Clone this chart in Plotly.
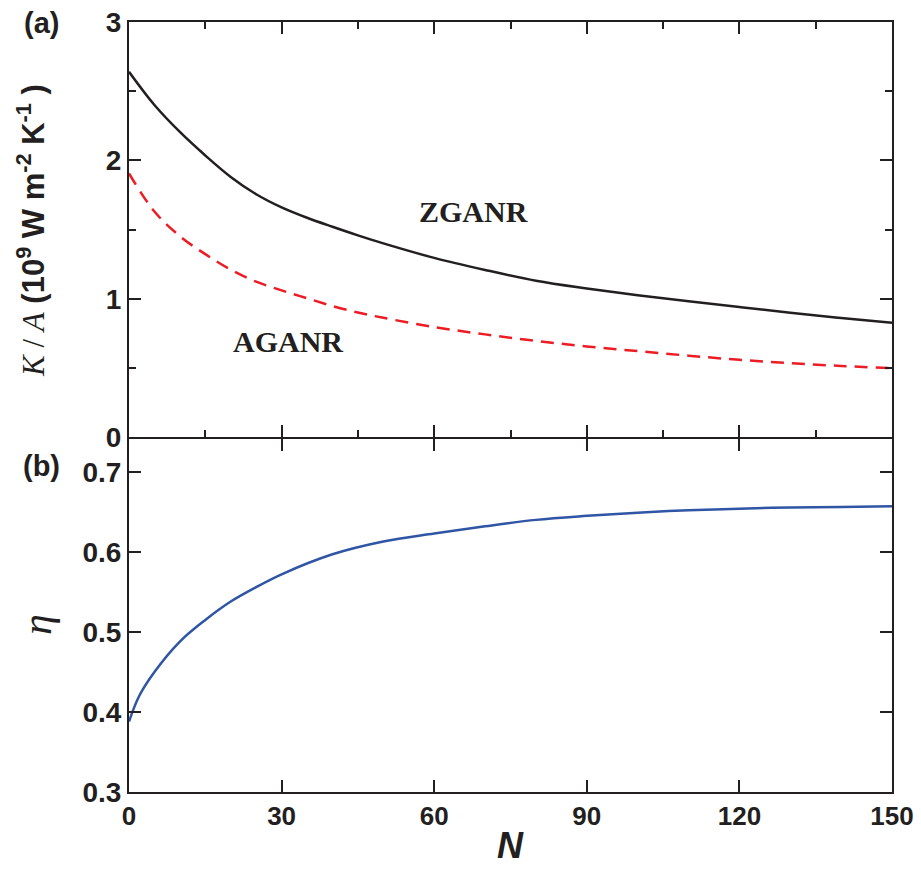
import plotly.graph_objects as go

# ---- data ----
N_k = [0, 5, 10, 15, 20, 25, 30, 35, 40, 45, 50, 60, 70, 80, 90, 100, 110, 120, 130, 140, 150]
zganr = [2.64, 2.40, 2.205, 2.035, 1.88, 1.755, 1.66, 1.585, 1.52, 1.458, 1.40, 1.295, 1.208, 1.13,
         1.074, 1.025, 0.982, 0.94, 0.898, 0.86, 0.826]
aganr = [1.905, 1.63, 1.452, 1.322, 1.21, 1.123, 1.06, 1.003, 0.947, 0.90, 0.862, 0.795, 0.742,
         0.695, 0.655, 0.621, 0.588, 0.558, 0.534, 0.514, 0.497]
N_eta = [0, 2, 5, 10, 15, 20, 25, 30, 40, 50, 60, 70, 80, 90, 100, 110, 120, 130, 140, 150]
eta = [0.388, 0.42, 0.45, 0.488, 0.515, 0.538, 0.556, 0.572, 0.597, 0.613, 0.623, 0.632, 0.64,
       0.645, 0.649, 0.652, 0.654, 0.6555, 0.656, 0.657]

x_ticks = [0, 30, 60, 90, 120, 150]
k_ticks = [0, 1, 2, 3]
eta_ticks = [0.3, 0.4, 0.5, 0.6, 0.7]

AX = "#231f20"
BLACK = "#231f20"
RED = "#ed1c24"
BLUE = "#2f55a4"

fig = go.Figure()
fig.add_trace(go.Scatter(x=N_k, y=zganr, mode="lines", line=dict(color=BLACK, width=2.5, shape="spline"),
                         xaxis="x2", yaxis="y2", showlegend=False))
fig.add_trace(go.Scatter(x=N_k, y=aganr, mode="lines",
                         line=dict(color=RED, width=2.5, dash="13px,8px", shape="spline"),
                         xaxis="x2", yaxis="y2", showlegend=False))
fig.add_trace(go.Scatter(x=N_eta, y=eta, mode="lines", line=dict(color=BLUE, width=2.5, shape="spline"),
                         xaxis="x", yaxis="y", showlegend=False))

ytickfont = dict(family="Liberation Sans, Arial", size=28, color=AX, weight="bold")
xtickfont = dict(family="Liberation Sans, Arial", size=26, color=AX, weight="bold")
common = dict(showline=True, linecolor=AX, linewidth=2, mirror="ticks", ticks="inside",
              tickcolor=AX, tickwidth=2, ticklen=12, showgrid=False, zeroline=False,
              ticklabeloverflow="allow", automargin=False)
minor_x = dict(dtick=15, tick0=0, ticks="inside", ticklen=7, tickwidth=2, tickcolor=AX)

split = 0.461
gap = 2.0 / 770
fig.update_layout(
    width=905, height=857,
    margin=dict(l=121, r=21, t=14, b=73, autoexpand=False),
    paper_bgcolor="white", plot_bgcolor="white",
    xaxis=dict(range=[0, 150], tickvals=x_ticks, anchor="y", domain=[0, 1], tickfont=xtickfont,
               **common),
    yaxis=dict(range=[0.3, 0.741], tickvals=eta_ticks, tickformat=".1f", anchor="x",
               domain=[0, split - gap], tickfont=ytickfont, **common),
    xaxis2=dict(range=[0, 150], tickvals=x_ticks, anchor="y2", domain=[0, 1], showticklabels=False,
                minor=minor_x, **common),
    xaxis3=dict(range=[0, 150], tickvals=x_ticks, anchor="y2", overlaying="x2", side="top",
                showticklabels=False, minor=minor_x, showline=True, linecolor=AX, linewidth=2,
                ticks="inside", tickcolor=AX, tickwidth=2, ticklen=12, showgrid=False,
                zeroline=False, automargin=False),
    yaxis2=dict(range=[0, 3], tickvals=k_ticks, anchor="x2", domain=[split, 1], tickfont=ytickfont,
                minor=dict(dtick=0.5, tick0=0, ticks="inside", ticklen=7, tickwidth=2, tickcolor=AX),
                **common),
)

sans_b = dict(family="Liberation Sans, Arial", color=AX, weight="bold")
serif_b = dict(family="Liberation Serif, Times New Roman", color=AX, weight="bold")
ctr = dict(showarrow=False, xanchor="center", yanchor="middle")


def px(x):
    return (x - 129) / 763


def py(y):
    return (792 - y) / 770


fig.add_annotation(text="ZGANR", x=67.7, y=1.627, xref="x2", yref="y2",
                   font=dict(size=30, **serif_b), **ctr)
fig.add_annotation(text="AGANR", x=31.3, y=0.694, xref="x2", yref="y2",
                   font=dict(size=30, **serif_b), **ctr)
fig.add_annotation(text="(a)", x=px(41), y=py(23), xref="paper", yref="paper",
                   font=dict(size=29, **sans_b), **ctr)
fig.add_annotation(text="(b)", x=px(41), y=py(466), xref="paper", yref="paper",
                   font=dict(size=29, **sans_b), **ctr)

ytitle = ("<span style=\"font-family:'Liberation Serif';font-style:italic;font-weight:normal\">K</span>"
          "<span style=\"font-family:'Liberation Serif';font-weight:normal\"> / </span>"
          "<span style=\"font-family:'Liberation Serif';font-style:italic;font-weight:normal\">A</span>"
          " (10<sup>9</sup> W m<sup>-2</sup> K<sup>-1</sup> )")
fig.add_annotation(text=ytitle, x=px(31), y=py(231), xref="paper", yref="paper",
                   textangle=-90, font=dict(size=31, **sans_b), **ctr)
fig.add_annotation(text="<i>η</i>", x=px(37), y=py(625), xref="paper", yref="paper",
                   textangle=-90, font=dict(size=42, family="Liberation Serif, Times New Roman", color=AX),
                   **ctr)
fig.add_annotation(text="<i>N</i>", x=px(510), y=py(846), xref="paper", yref="paper",
                   font=dict(size=36, **sans_b), **ctr)

fig.write_html("out.html")
